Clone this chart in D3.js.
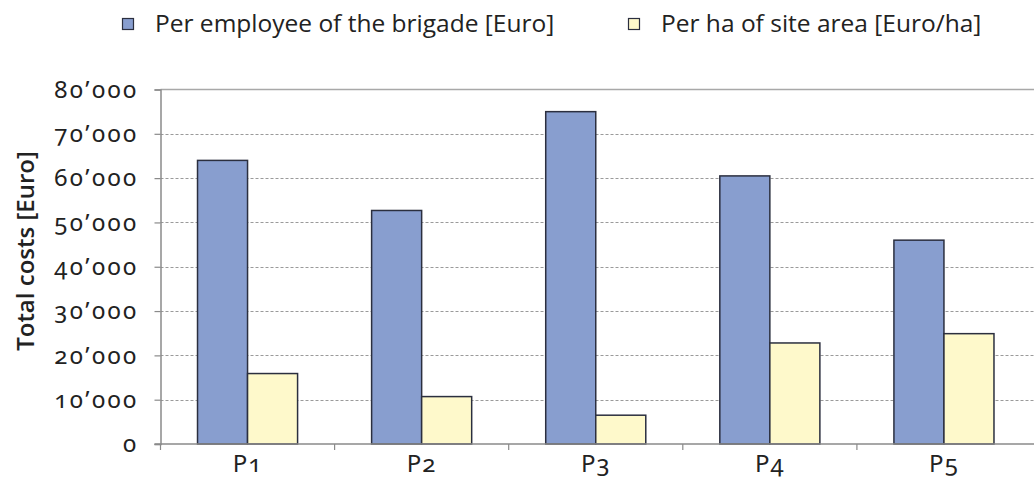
<!DOCTYPE html>
<html><head><meta charset="utf-8">
<script src="https://cdn.jsdelivr.net/npm/d3@7"></script>
<style>
body{margin:0;background:#fff;}
svg{display:block;}
.tick text{font-family:"Noto Sans",sans-serif;font-feature-settings:"onum" 1;font-variant-numeric:oldstyle-nums;}
</style></head>
<body><svg id="chart" width="1034" height="478"></svg>
<script>
const categories = ["P1","P2","P3","P4","P5"];
const seriesNames = ["Per employee of the brigade [Euro]","Per ha of site area [Euro/ha]"];
const perEmployee = [64000, 52700, 75000, 60500, 46000];
const perHa = [15900, 10700, 6500, 22800, 24900];
const yTicks = [0,10000,20000,30000,40000,50000,60000,70000,80000];
const colors = ["#889ecf","#fef9cb"];

(function(){
const svg = d3.select("#chart");
const pLeft = 160.5, pTop = 89.5, pBottom = 444, pRight = 1031;
const x = d3.scaleBand().domain(categories).range([pLeft, pRight]).paddingInner(0).paddingOuter(0);
const x1 = d3.scaleBand().domain([0,1]).range([0, x.bandwidth()]).paddingInner(0).paddingOuter(0.74);
const y = d3.scaleLinear().domain([0,80000]).range([pBottom, pTop]);

// grid
svg.append("g").selectAll("line").data(yTicks.filter(d=>d>0 && d<80000)).join("line")
  .attr("x1", pLeft).attr("x2", 1034).attr("y1", d=>Math.round(y(d))+0.5).attr("y2", d=>Math.round(y(d))+0.5)
  .attr("stroke","#9a9a9a").attr("stroke-width",1).attr("stroke-dasharray","3,2");
// top border
svg.append("line").attr("x1",pLeft).attr("x2",1034).attr("y1",pTop).attr("y2",pTop)
  .attr("stroke","#a8a8a8").attr("stroke-width",1.5);

const fmt = d => d===0 ? "0" : (d/1000) + "’000";
const yAxis = svg.append("g").attr("transform",`translate(${pLeft},0)`)
  .call(d3.axisLeft(y).tickValues(yTicks).tickFormat(fmt).tickSize(6).tickPadding(16));
yAxis.select(".domain").attr("stroke","#8a8a8a").attr("stroke-width",1.5);
yAxis.selectAll(".tick line").attr("stroke","#8a8a8a").attr("stroke-width",1.2);
yAxis.selectAll(".tick text").attr("font-size",24).attr("letter-spacing","2.4px").attr("fill","#222");

// bars
const data = categories.map((c,i)=>({c, vals:[perEmployee[i], perHa[i]]}));
const g = svg.append("g").selectAll("g").data(data).join("g")
  .attr("transform", d=>`translate(${x(d.c)},0)`);
g.selectAll("rect").data(d=>d.vals.map((v,k)=>({v,k}))).join("rect")
  .attr("x", d=>x1(d.k)).attr("width", x1.bandwidth())
  .attr("y", d=>y(d.v)).attr("height", d=>pBottom - y(d.v))
  .attr("fill", d=>colors[d.k]).attr("stroke","#2b2f3f").attr("stroke-width",1.5);

// x axis
const xAxis = svg.append("g").attr("transform",`translate(0,${pBottom})`)
  .call(d3.axisBottom(x).tickSize(0).tickPadding(11));
xAxis.select(".domain").remove();
svg.append("line").attr("x1",pLeft-6).attr("x2",1034).attr("y1",pBottom).attr("y2",pBottom)
  .attr("stroke","#8a8a8a").attr("stroke-width",1.5);
svg.append("g").selectAll("line").data(categories).join("line")
  .attr("x1", d=>x(d)).attr("x2", d=>x(d)).attr("y1", pBottom).attr("y2", pBottom+6)
  .attr("stroke","#8a8a8a").attr("stroke-width",1.2);
xAxis.selectAll(".tick text").attr("font-size",24).attr("letter-spacing","1px").attr("fill","#222");

// y title
svg.append("text").attr("transform","translate(34,251) rotate(-90)")
  .attr("text-anchor","middle").attr("font-family","Open Sans, sans-serif")
  .attr("font-weight",600).attr("font-size",24).attr("fill","#222").text("Total costs [Euro]");

// legend
const legX = [122, 628];
const leg = svg.append("g").selectAll("g").data(seriesNames).join("g")
  .attr("transform",(d,i)=>`translate(${legX[i]},0)`);
leg.append("rect").attr("x",0.5).attr("y",18.5).attr("width",11).attr("height",11)
  .attr("fill",(d,i)=>colors[i]).attr("stroke","#2b2f3f").attr("stroke-width",1.2);
leg.append("text").attr("x",33).attr("y",32).attr("font-family","Open Sans, sans-serif")
  .attr("font-size",24.5).attr("fill","#222").text(d=>d);
})();
</script></body></html>
